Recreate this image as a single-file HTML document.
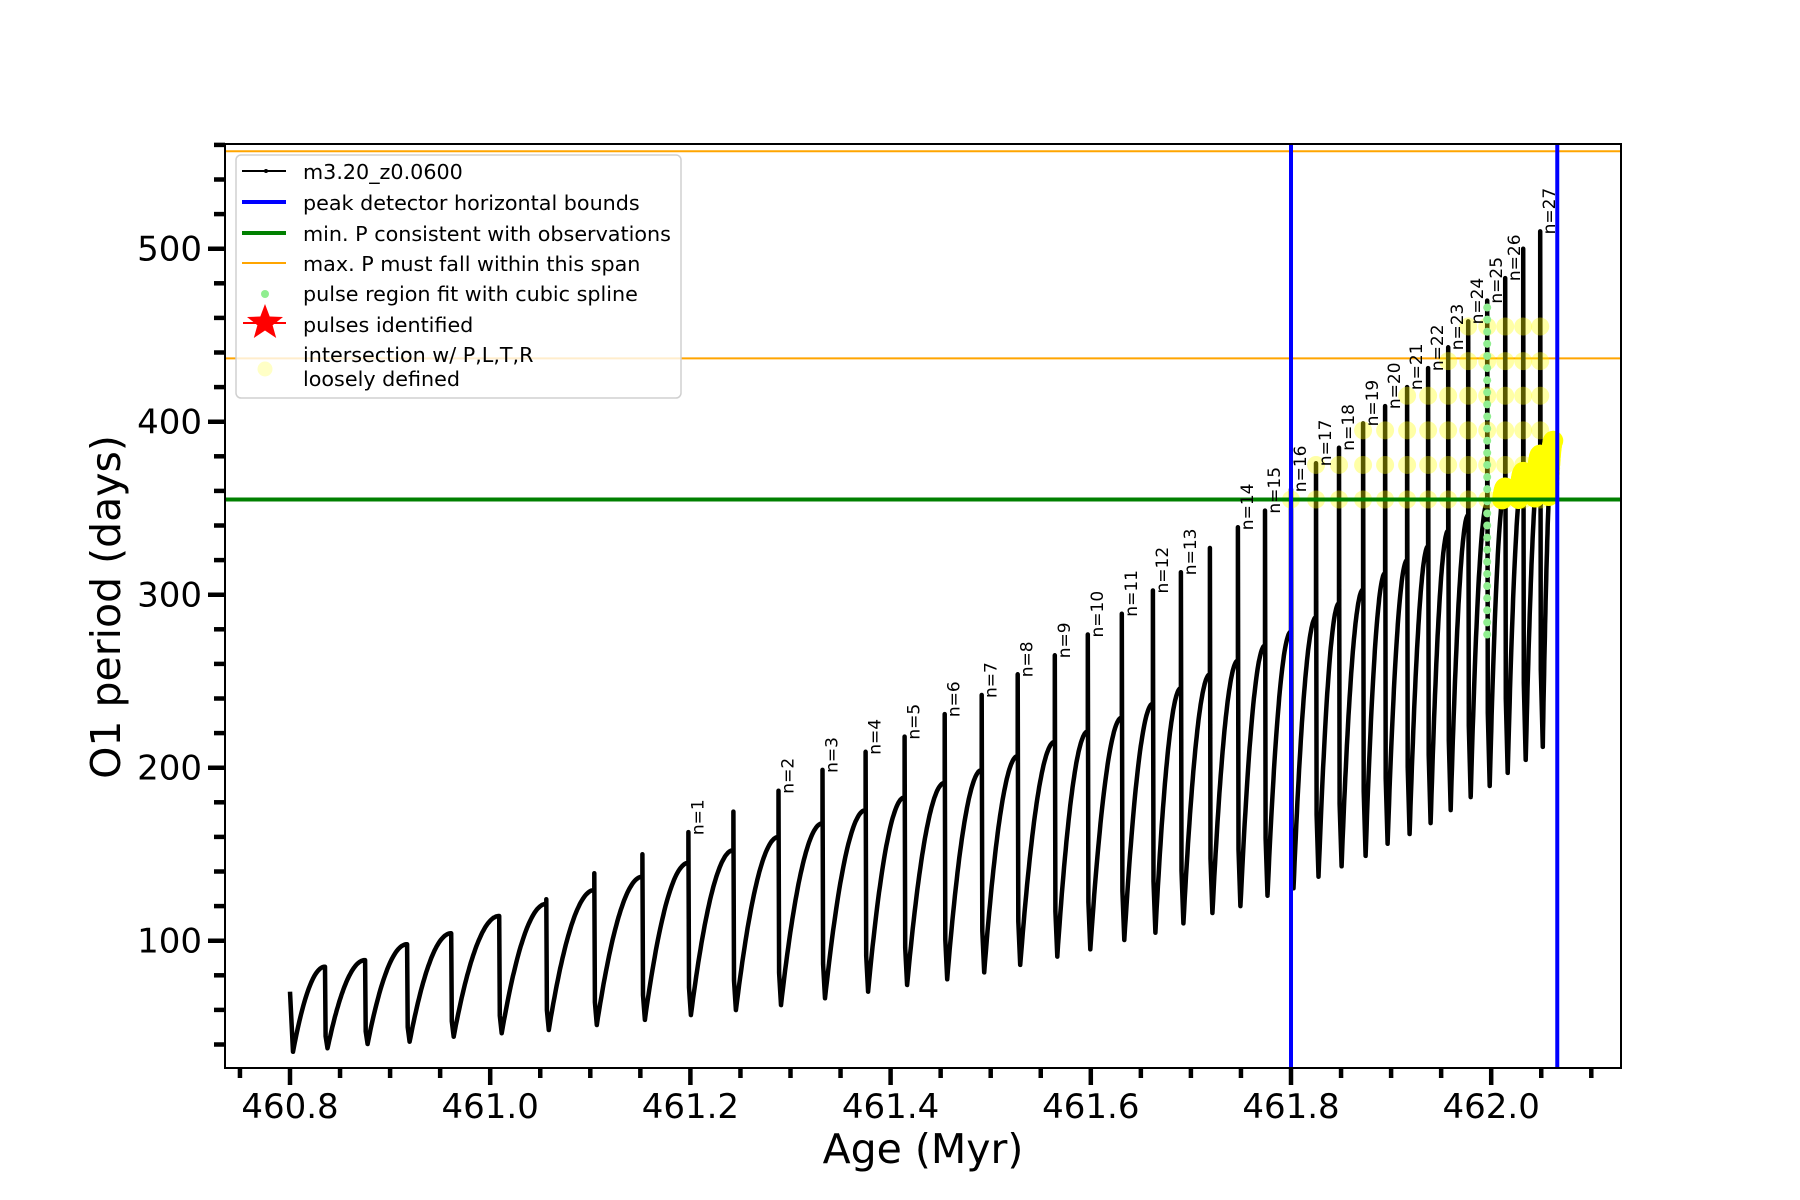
<!DOCTYPE html>
<html><head><meta charset="utf-8"><style>
html,body{margin:0;padding:0;background:#fff;}
svg{display:block;font-family:"DejaVu Sans","Liberation Sans",sans-serif;}
</style></head><body>
<svg id="chart" width="1800" height="1200" viewBox="0 0 1800 1200" xmlns="http://www.w3.org/2000/svg">
<defs><clipPath id="plotclip"><rect x="225" y="144" width="1396" height="924"/></clipPath></defs>
<rect x="0" y="0" width="1800" height="1200" fill="#fff"/>
<g id="data" clip-path="url(#plotclip)"></g>
<rect x="225" y="144" width="1396" height="924" fill="none" stroke="#000" stroke-width="2"/>
<g id="axes"></g>
<text x="923" y="1163" font-size="41" text-anchor="middle">Age (Myr)</text>
<text transform="translate(120,607) rotate(-90)" font-size="41" text-anchor="middle">O1 period (days)</text>
<g id="legend">
  <rect x="236" y="155" width="445" height="243" rx="5" fill="#fff" fill-opacity="0.8" stroke="#d0d0d0" stroke-width="1.5"/>
  <g>
    <line x1="242" y1="171" x2="286" y2="171" stroke="#000" stroke-width="2"/><circle cx="266" cy="171" r="2" fill="#000"/>
    <text x="303" y="179" font-size="20.7">m3.20_z0.0600</text></g>
  <g>
    <line x1="242" y1="202" x2="286" y2="202" stroke="#0000ff" stroke-width="4"/>
    <text x="303" y="210" font-size="20.7">peak detector horizontal bounds</text></g>
  <g>
    <line x1="242" y1="233" x2="286" y2="233" stroke="#008000" stroke-width="4"/>
    <text x="303" y="241" font-size="20.7">min. P consistent with observations</text></g>
  <g>
    <line x1="242" y1="263" x2="286" y2="263" stroke="#ffa500" stroke-width="2"/>
    <text x="303" y="271" font-size="20.7">max. P must fall within this span</text></g>
  <g>
    <circle cx="265" cy="294" r="4" fill="#90ee90"/>
    <text x="303" y="301" font-size="20.7">pulse region fit with cubic spline</text></g>
  <g>
    <line x1="243" y1="323" x2="286" y2="323" stroke="#ff0000" stroke-width="2"/>
    <polygon points="265,304 269.7,316.5 283,317 272.6,325.2 276.2,338 265,330.5 253.8,338 257.4,325.2 247,317 260.3,316.5" fill="#ff0000"/>
    <text x="303" y="332" font-size="20.7">pulses identified</text></g>
  <g>
    <circle cx="265" cy="369" r="7.5" fill="#ffff80" fill-opacity="0.45"/>
    <text x="303" y="362" font-size="20.7">intersection w/ P,L,T,R</text>
    <text x="303" y="386" font-size="20.7">loosely defined</text></g>
</g>
</svg>
<script>
// ---- data ----
const pulseAge  = [460.835,460.875,460.917,460.961,461.009,461.056,461.104,461.152,461.198,461.243,461.288,461.332,461.375,461.414,461.454,461.491,461.527,461.564,461.597,461.631,461.662,461.690,461.719,461.747,461.774,461.800,461.825,461.848,461.872,461.894,461.916,461.937,461.957,461.977,461.996,462.014,462.032,462.049];
const preTop    = [85,88.8,98,104.3,114.3,121.3,129.3,137,145,152.4,160,167.9,175.5,182.9,191.3,198.7,206.8,215,221,229,237,246,254,262,270.6,278.6,287,295,303,312.5,320,328,337,346,352.7,362,371,381];
const spikePeak = [85,88.8,98,104.3,114.3,124,139,150,162.8,174.6,186.7,198.7,209.2,218,231,242,254,265,277,289,302.4,313,327,339,348.6,361,376,385,399,409,420,431,443,458,470,483,500,510];
const postMin   = [37.8,40.3,41.6,44.5,46.5,48.4,51.3,54.2,57,59.9,62.8,66.7,70.5,74.4,77.7,81.7,86,90.8,95,100.4,104.6,110,116,120,126,130.3,137,143,149,156,161.7,168,175.5,183,189.4,197,204.5,212];
const pulseLabel= [0,0,0,0,0,0,0,0,1,0,2,3,4,5,6,7,8,9,10,11,12,13,0,14,15,16,17,18,19,20,21,22,23,24,25,26,0,27];
const startAge = 460.800, startVal = 70.5, startMin = 35.8;
const endAge = 462.062, endVal = 389;
const boundAges = [461.800, 462.066];
const minP = 355;
const maxPSpan = [436.6, 556.3];
const splinePulseIndex = 34;
const splineRange = [277, 470];
const xTickLabels = ["460.8","461.0","461.2","461.4","461.6","461.8","462.0"];
const yTickLabels = ["100","200","300","400","500"];

// ---- scales ----
const xs = a => 290 + (a - 460.8) * 1001;
const ys = v => 940.7 - (v - 100) * 1.73;
const NS = "http://www.w3.org/2000/svg";
const dataG = document.getElementById('data');
const axesG = document.getElementById('axes');
function mk(tag, attrs, parent){ const e=document.createElementNS(NS,tag); for(const k in attrs) e.setAttribute(k,attrs[k]); parent.appendChild(e); return e; }

maxPSpan.forEach((v,i)=>{
  const l = mk('line',{x1:225,x2:1621,y1:ys(v),y2:ys(v),stroke:'#ffa500','stroke-width':2},dataG);
  
  
});

const pts = [];
const opaque = [];
function rise(t0, v0, t1, v1, collect){
  const N = 40;
  for(let j=1;j<=N;j++){
    const u=j/N; const t=t0+(t1-t0)*u; const v=v0+(v1-v0)*(1-Math.pow(1-u,2));
    pts.push([t,v]); if(collect && v>=minP) opaque.push([t,v]);
  }
}
pts.push([startAge,startVal]);
pts.push([startAge+0.003,startMin]);
rise(startAge+0.003,startMin,pulseAge[0],preTop[0],false);
for(let i=0;i<pulseAge.length;i++){
  const t=pulseAge[i];
  pts.push([t,spikePeak[i]]);
  pts.push([t+0.0006,postMin[i]+ (spikePeak[i]-postMin[i])*0.15]);
  pts.push([t+0.0025,postMin[i]]);
  const tn = i+1<pulseAge.length ? pulseAge[i+1] : endAge;
  const vn = i+1<pulseAge.length ? preTop[i+1] : endVal;
  rise(t+0.0025,postMin[i],tn,vn,i>=splinePulseIndex);
}
const curve = mk('polyline',{points:pts.map(p=>xs(p[0]).toFixed(1)+','+ys(p[1]).toFixed(1)).join(' '),fill:'none',stroke:'#000','stroke-width':4.5,'stroke-linejoin':'round'},dataG);



for(let i=0;i<pulseAge.length;i++){
  if(spikePeak[i] < minP) continue;
  const top = Math.min(spikePeak[i], 472);
  for(let v=minP; v<=top; v+=20){
    const c = mk('circle',{cx:xs(pulseAge[i]),cy:ys(v),r:9,fill:'#ffff00','fill-opacity':0.35},dataG);
    
    
  }
}
opaque.forEach(p=>{
  const c = mk('circle',{cx:xs(p[0]),cy:ys(p[1]),r:10,fill:'#ffff00'},dataG);
  
  
});
for(let v=splineRange[0]; v<=splineRange[1]; v+=7){
  const c = mk('circle',{cx:xs(pulseAge[splinePulseIndex]),cy:ys(v),r:4,fill:'#90ee90'},dataG);
  
  
}
const gl = mk('line',{x1:225,x2:1621,y1:ys(minP),y2:ys(minP),stroke:'#008000','stroke-width':4},dataG);


boundAges.forEach(a=>{
  const l = mk('line',{x1:xs(a),x2:xs(a),y1:144,y2:1068,stroke:'#0000ff','stroke-width':4},dataG);
  
  
});
for(let i=0;i<pulseAge.length;i++){
  if(!pulseLabel[i]) continue;
  const x = xs(pulseAge[i])+15, y = ys(spikePeak[i])+3;
  const t = mk('text',{transform:'translate('+x.toFixed(1)+','+y.toFixed(1)+') rotate(-90)','font-size':17,fill:'#000'},dataG);
  t.textContent = 'n='+pulseLabel[i];
  
  
}

for(let k=0;k<=27;k++){
  const a = 460.75 + k*0.05;
  const r = (a-460.8)/0.2;
  const major = Math.abs(r - Math.round(r))<1e-6;
  const l = mk('line',{x1:xs(a),x2:xs(a),y1:1068,y2:1068+(major?17:10),stroke:'#000','stroke-width':4.5},axesG);
  
  
}
xTickLabels.forEach(s=>{
  const t = mk('text',{x:xs(parseFloat(s)),y:1118,'font-size':34,'text-anchor':'middle'},axesG);
  t.textContent = s;
  
  
});
for(let v=40; v<=560; v+=20){
  const major = v%100===0;
  const l = mk('line',{x1:225-(major?17:11),x2:225,y1:ys(v),y2:ys(v),stroke:'#000','stroke-width':4.5},axesG);
  
  
}
yTickLabels.forEach(s=>{
  const t = mk('text',{x:202,y:ys(parseFloat(s))+12,'font-size':34,'text-anchor':'end'},axesG);
  t.textContent = s;
  
  
});
</script>
</body></html>
